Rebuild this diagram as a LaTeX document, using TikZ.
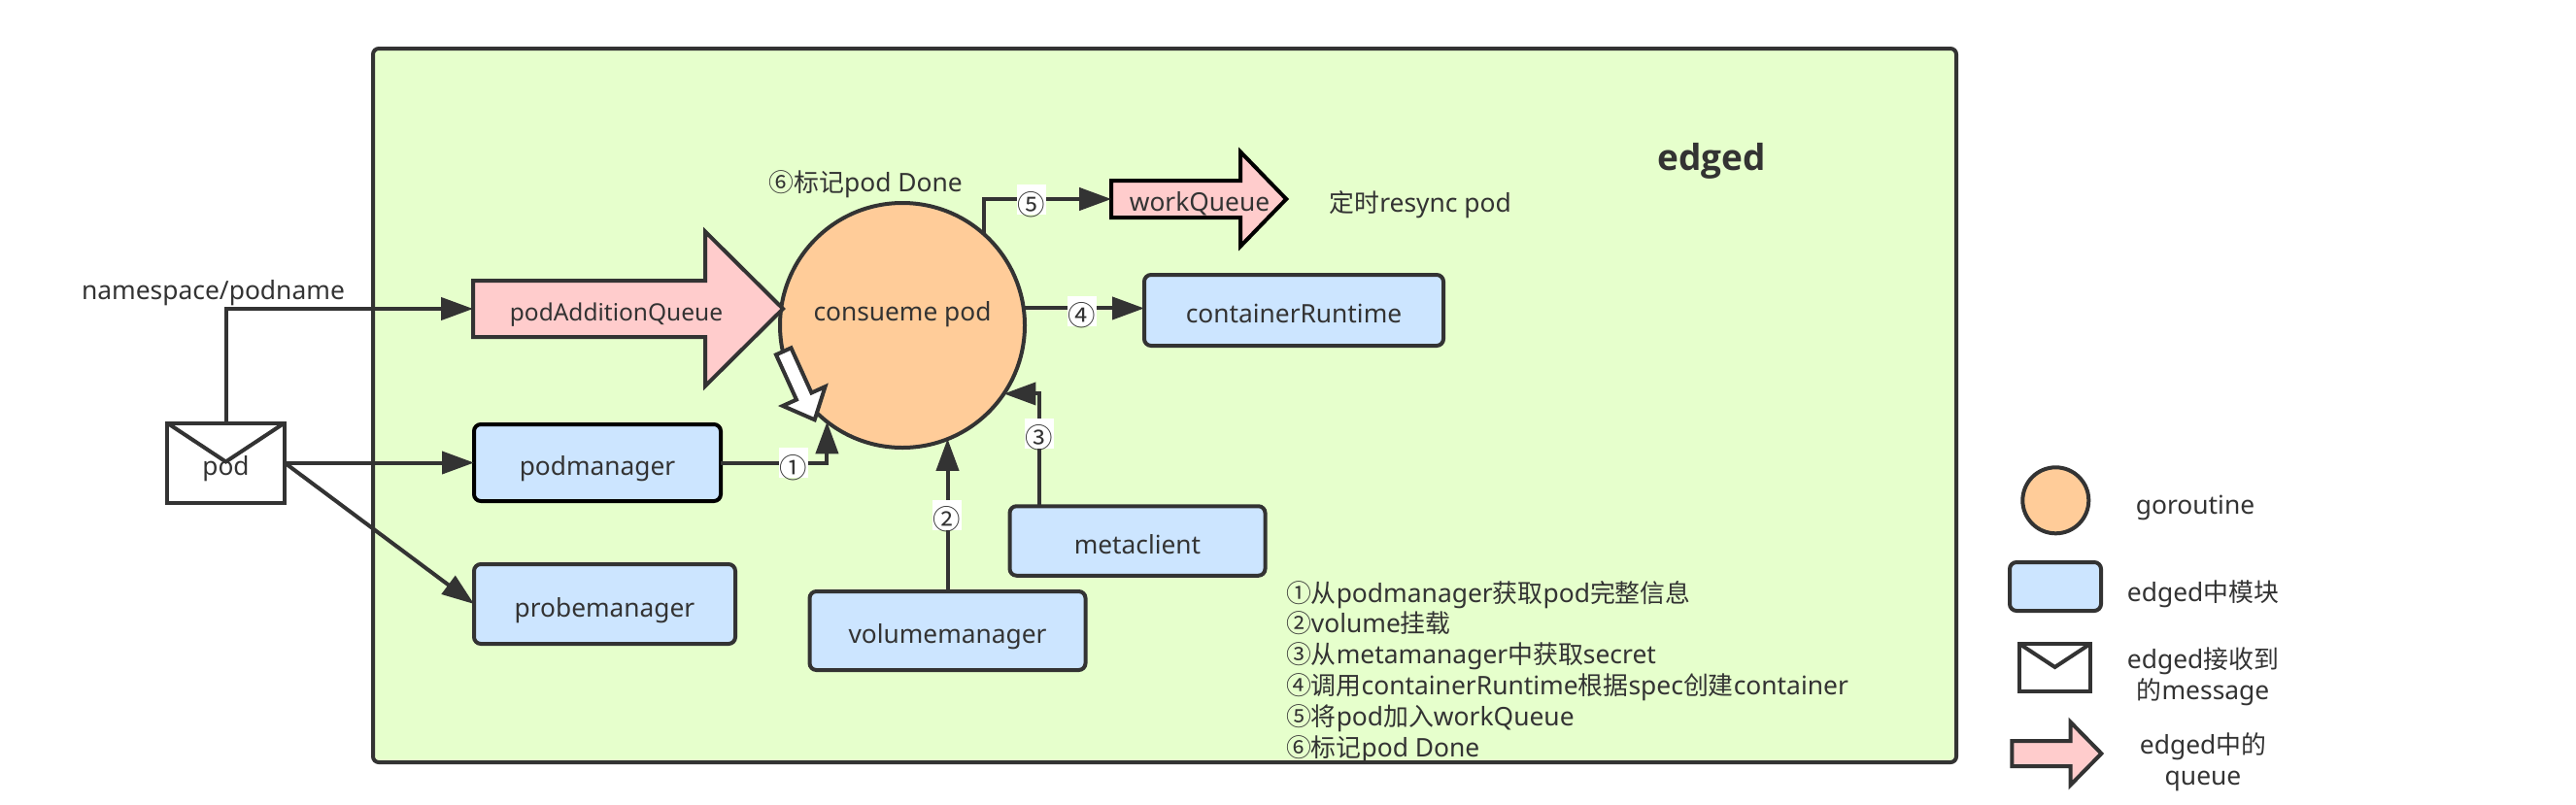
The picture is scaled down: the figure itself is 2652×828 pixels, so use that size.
\documentclass[tikz,border=0pt]{standalone}
\usepackage{fontspec}
\setmainfont{Noto Sans}
\newfontfamily\cjk[Scale=0.98]{Noto Sans CJK SC}
\newfontfamily\titlefont{Open Sans}
\newcommand{\zh}[1]{{\cjk #1}}
\usetikzlibrary{arrows.meta,shapes.arrows,shapes.geometric,calc}
\definecolor{ink}{HTML}{333333}
\definecolor{bggreen}{HTML}{E6FFCC}
\definecolor{modblue}{HTML}{CCE5FF}
\definecolor{gorange}{HTML}{FFCC99}
\definecolor{qpink}{HTML}{FFCCCC}
\tikzset{
  base/.style={line width=4pt,draw=ink,text=ink,inner sep=0pt,outer sep=0pt,font=\fontsize{26.3}{32}\selectfont},
  modbox/.style={base,rectangle,rounded corners=7pt,fill=modblue,text height=28pt,text depth=2pt},
  gocircle/.style={base,circle,fill=gorange},
  mailbox/.style={base,rectangle,fill=white,text height=28pt,text depth=2pt,
    path picture={\draw[line width=4pt,draw=ink]
      (path picture bounding box.north west) -- ($(path picture bounding box.north)+(0,-#1)$) -- (path picture bounding box.north east);}},
  queuearrow/.style={base,single arrow,fill=qpink,single arrow head indent=0pt},
  plain/.style={text=ink,inner sep=0pt,outer sep=0pt,font=\fontsize{26.4}{31.8}\selectfont},
  lbl/.style={fill=white,text=ink,inner sep=0pt,outer sep=0pt,minimum width=30pt,minimum height=31pt,
    text height=31pt,text depth=0pt,font=\cjk\fontsize{29}{30}\selectfont},
  conn/.style={line width=4pt,draw=ink,-{Triangle[length=33pt,width=23pt]}},
}
\begin{document}
\begin{tikzpicture}[x=1pt,y=-1pt]
\useasboundingbox (0,0) rectangle (2652,828);
% container
\node[base,rectangle,rounded corners=6pt,fill=bggreen,minimum width=1630pt,minimum height=735pt] (edged) at (1199,417.5) {};
\node[plain,anchor=base,font=\titlefont\bfseries\fontsize{37}{40}\selectfont] (title) at (1762,175) {edged};
% main circle
\node[gocircle,minimum size=252pt,text height=5pt,text depth=15pt] (c) at (929,335) {consueme pod};
% queues
\node[queuearrow,minimum height=319pt,single arrow head extend=50.5pt,single arrow tip angle=89.6,
  font=\fontsize{24.5}{32}\selectfont,text height=39.5pt,text depth=14.5pt] (pq) at (632,318) {\hspace*{5pt}podAdditionQueue};
\node[queuearrow,draw=black,minimum height=180pt,single arrow head extend=29.5pt,single arrow tip angle=91.8,
  text height=29pt,text depth=5pt] (wq) at (1225,205) {\hspace*{20pt}\makebox[0pt][c]{workQueue}};
% modules
\node[modbox,draw=black,minimum width=254pt,minimum height=79pt] (pm) at (615,476.5) {podmanager};
\node[modbox,minimum width=269pt,minimum height=82pt] (prm) at (622.5,622) {probemanager};
\node[modbox,minimum width=284pt,minimum height=81pt] (vm) at (975.5,649.5) {volumemanager};
\node[modbox,minimum width=263pt,minimum height=71.5pt] (mc) at (1171,557) {metaclient};
\node[modbox,minimum width=308pt,minimum height=73pt] (cr) at (1332,319.5) {containerRuntime};
\node[mailbox=40pt,minimum width=121pt,minimum height=82pt] (pod) at (232.5,476.5) {pod};
\coordinate (mcout) at (1070,521.5);
% texts
\node[plain,anchor=base west] (nsname) at (84,308) {namespace/podname};
\node[plain,anchor=base west] (done) at (791.5,197) {\zh{⑥标记}pod Done};
\node[plain,anchor=base west] (resync) at (1368.5,218) {\zh{定时}resync pod};
\node[plain,anchor=north west,align=left] (steps) at (1324,598) {%
\zh{①从}podmanager\zh{获取}pod\zh{完整信息}\\
\zh{②}volume\zh{挂载}\\
\zh{③从}metamanager\zh{中获取}secret\\
\zh{④调用}containerRuntime\zh{根据}spec\zh{创建}container\\
\zh{⑤将}pod\zh{加入}workQueue\\
\zh{⑥标记}pod Done};
% connectors
\draw[conn] (pod.north) |- (pq.west);
\draw[conn] (pod.east) -- (pm.west);
\draw[conn] (pod.east) -- (prm.west);
\draw[conn] (pm.east) -| (c.-128);
\draw[conn] (vm.north) -- (vm.north |- c.-68);
\draw[conn] (mcout) |- (c.-34.4);
\draw[conn] (c.8) -- (c.8 -| cr.west);
\draw[conn] (c.48) |- (wq.west);
% connector labels
\node[lbl] (l1) at (817,476.5) {①};
\node[lbl] (l2) at (975,530) {②};
\node[lbl] (l3) at (1070,446) {③};
\node[lbl] (l4) at (1114,320) {④};
\node[lbl] (l5) at (1062,205.5) {⑤};
% white arrow
\node[base,single arrow,fill=white,rotate=-65.6,single arrow head indent=0pt,minimum height=77.4pt,
  single arrow head extend=15.5pt,single arrow tip angle=84.1,text height=6.5pt,text depth=6.5pt] (wa) at (820.75,392.75) {};
% legend
\node[gocircle,minimum size=68pt] (lc) at (2116.3,515.3) {};
\node[modbox,minimum width=94pt,minimum height=50pt] (lm) at (2116,604) {};
\node[mailbox=24pt,minimum width=73pt,minimum height=49pt] (le) at (2115.5,687.5) {};
\node[queuearrow,minimum height=92pt,single arrow head extend=19.5pt,single arrow tip angle=91.1,
  text height=11pt,text depth=11pt] (la) at (2111,776) {};
\node[plain,anchor=base] (tc) at (2260,529) {goroutine};
\node[plain,anchor=base] (tm) at (2268,619) {edged\zh{中模块}};
\node[plain,align=center] (te) at (2268,697) {edged\zh{接收到}\\\zh{的}message};
\node[plain,align=center] (ta) at (2268,785) {edged\zh{中的}\\queue};
\end{tikzpicture}
\end{document}
